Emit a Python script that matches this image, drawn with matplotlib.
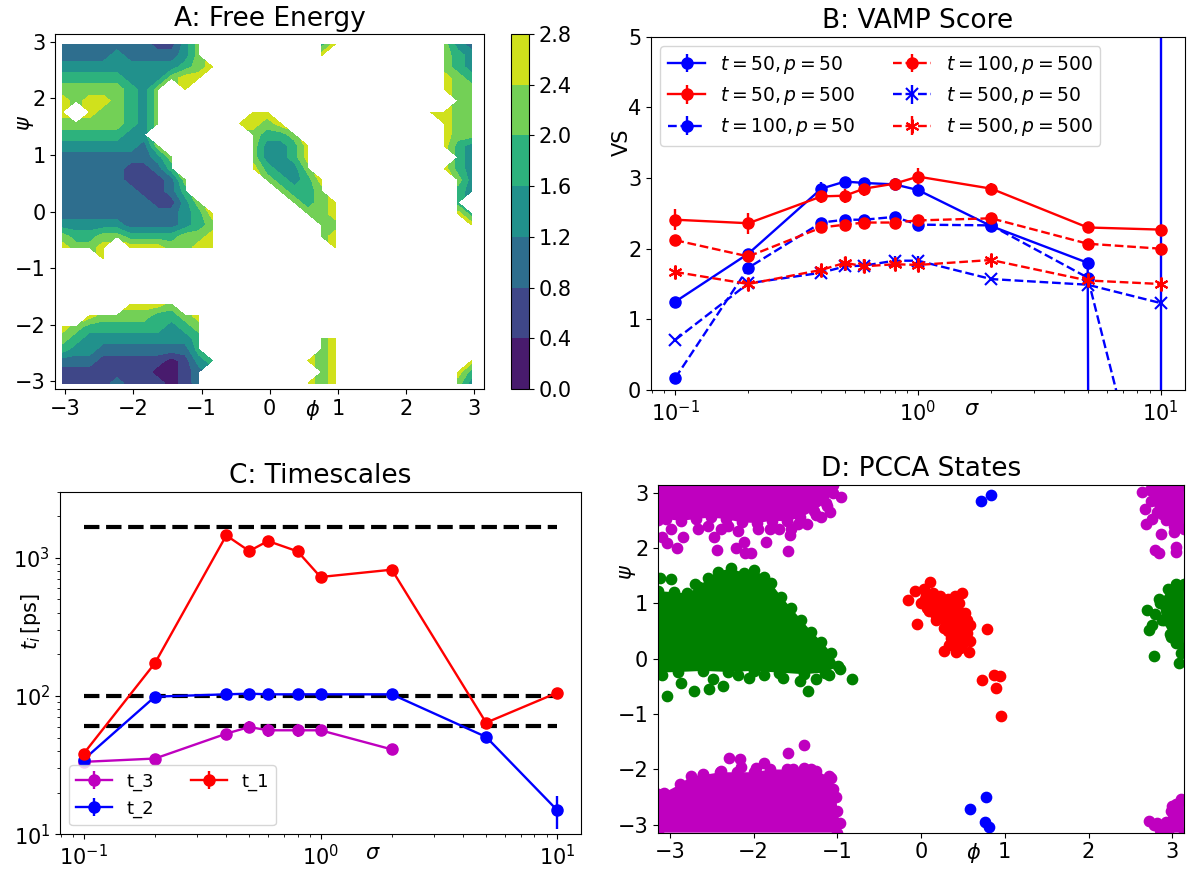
import numpy as np
import matplotlib
matplotlib.use('Agg')
import matplotlib.pyplot as plt

plt.rcParams['font.size'] = 15

# ---------------- data ----------------
# A: free energy on the (phi, psi) grid, one string per psi row (top row first).
# digit = contour band (0..6, band width 0.4), '.' = no samples
phi_grid = np.linspace(-3.04, 2.96, 31)
psi_grid = np.linspace(-3.04, 2.96, 31)
fe_rows = [
    "22222221135........46.......532",
    "22223222235........6........543",
    "333333333456................543",
    "44444333566.................654",
    "55555435.6..................655",
    "65665435.....................55",
    "6.655435......66...........6655",
    "55555435.....6656...........655",
    "4444433.......5445..........655",
    "33333325......53346.........643",
    "222222235.....53346..........43",
    "222221124.....64335.........643",
    "2222211125.....54346.........53",
    "2222221124......5445.........43",
    "22222221135......5456........4.",
    "222222222346......556........64",
    "333332222345.......55.........6",
    "544554444556.......56..........",
    "6556.6665566........6..........",
    "...6...........................",
    "...............................",
    "...............................",
    "...............................",
    ".....6665......................",
    "..655554456....................",
    "65444444345....................",
    "54333333334........56..........",
    "43322222224........56..........",
    "222111110134......656.........6",
    "11111110012........56........64",
    "11112111012.......656........53",
]
fe_levels = [0.0, 0.4, 0.8, 1.2, 1.6, 2.0, 2.4, 2.8]
angle_ticks = [-3, -2, -1, 0, 1, 2, 3]

# B: VAMP score vs sigma
sigma = [0.1, 0.2, 0.4, 0.5, 0.6, 0.8, 1.0, 2.0, 5.0, 10.0]
vs_t50_p50 = [1.25, 1.93, 2.85, 2.95, 2.93, 2.91, 2.83, 2.32, 1.80, -300.0]
er_t50_p50 = [0.03, 0.05, 0.10, 0.05, 0.05, 0.05, 0.04, 0.04, 0.05, 600.0]
vs_t50_p500 = [2.41, 2.36, 2.74, 2.75, 2.85, 2.92, 3.02, 2.85, 2.30, 2.27]
er_t50_p500 = [0.15, 0.15, 0.10, 0.10, 0.10, 0.08, 0.12, 0.08, 0.04, 0.04]
vs_t100_p50 = [0.17, 1.73, 2.37, 2.41, 2.41, 2.45, 2.34, 2.33, 1.59, -2.5]
er_t100_p50 = [0.03, 0.04, 0.05, 0.06, 0.06, 0.05, 0.04, 0.04, 0.05, 0.10]
vs_t100_p500 = [2.12, 1.89, 2.30, 2.34, 2.37, 2.37, 2.40, 2.43, 2.07, 2.00]
er_t100_p500 = [0.05, 0.06, 0.05, 0.06, 0.06, 0.05, 0.05, 0.08, 0.04, 0.04]
vs_t500_p50 = [0.71, 1.51, 1.66, 1.75, 1.76, 1.83, 1.83, 1.57, 1.49, 1.23]
er_t500_p50 = [0.03, 0.05, 0.05, 0.06, 0.08, 0.06, 0.06, 0.03, 0.04, 0.04]
vs_t500_p500 = [1.67, 1.50, 1.70, 1.80, 1.75, 1.78, 1.77, 1.84, 1.55, 1.50]
er_t500_p500 = [0.05, 0.08, 0.06, 0.08, 0.10, 0.08, 0.08, 0.06, 0.05, 0.04]

# C: implied timescales [ps]
t1 = [38.3, 173, 1449, 1117, 1320, 1111, 725, 819, 64.1, 105.7]
t1_err = [3, 10, 60, 50, 60, 50, 30, 30, 3, 5]
t2 = [34.7, 98.9, 102.8, 104, 102.8, 102.8, 102.8, 102.8, 50.6, 14.9]
t2_err = [2, 3, 3, 3, 3, 3, 3, 3, 2, 4]
t3 = [33.4, 35.3, 53.4, 59.7, 56.5, 56.5, 56.5, 41.1, np.nan, np.nan]
t3_err = [1, 1.5, 3, 6, 6, 6, 3, 3, np.nan, np.nan]
ref_timescales = [1667, 100, 61]

# D: PCCA states, dense cores (outline points) and loose points
mag_tl_edge = [(-3.14, 3.14), (-1.05, 3.14), (-1.05, 3.0), (-1.14, 2.82), (-1.28, 2.67),
               (-1.44, 2.55), (-1.6, 2.48), (-1.78, 2.49), (-1.96, 2.45), (-2.14, 2.46),
               (-2.33, 2.52), (-2.51, 2.55), (-2.69, 2.52), (-2.87, 2.49), (-3.05, 2.52),
               (-3.14, 2.5)]
mag_tl_pts = [(-0.96, 2.92), (-1.09, 2.64), (-1.19, 2.55), (-1.36, 2.43), (-1.57, 2.23),
              (-1.59, 1.95), (-1.85, 2.11), (-2.03, 1.90), (-2.11, 2.11), (-2.21, 1.99),
              (-2.44, 1.97), (-2.47, 2.19), (-2.91, 1.99), (-3.04, 2.09), (-2.84, 2.19),
              (-2.99, 2.34), (-2.67, 2.34), (-2.39, 2.34), (-2.19, 2.31), (-1.95, 2.34),
              (-1.81, 2.34), (-1.55, 2.34), (-1.47, 2.44), (-2.10, 1.91), (-3.1, 2.2),
              (-2.55, 2.4), (-2.3, 2.4), (-1.7, 2.35), (-1.25, 2.6), (-1.12, 2.75)]
grn_l_edge = [(-3.14, 1.22), (-2.95, 1.2), (-2.79, 1.18), (-2.65, 1.3), (-2.55, 1.45),
              (-2.43, 1.57), (-2.27, 1.63), (-2.12, 1.55), (-1.99, 1.6), (-1.87, 1.48),
              (-1.79, 1.36), (-1.67, 1.12), (-1.55, 0.91), (-1.43, 0.70), (-1.31, 0.49),
              (-1.19, 0.31), (-1.07, 0.10), (-0.99, -0.14), (-1.15, -0.25), (-1.4, -0.28),
              (-1.7, -0.25), (-2.0, -0.22), (-2.3, -0.24), (-2.6, -0.22), (-2.9, -0.24),
              (-3.14, -0.25)]
grn_l_pts = [(-3.12, 1.45), (-2.99, 1.44), (-2.70, 1.34), (-2.35, 1.5), (-2.0, 1.5),
             (-0.83, -0.37), (-3.03, -0.68), (-2.71, -0.59), (-2.53, -0.55), (-2.37, -0.49),
             (-2.49, -0.37), (-2.87, -0.44), (-1.35, -0.59), (-1.45, -0.41), (-1.25, -0.37),
             (-0.97, -0.19), (-2.19, -0.30), (-1.87, -0.30), (-3.1, -0.3), (-2.05, -0.35),
             (-1.65, -0.35), (-1.1, -0.3)]
mag_bl_edge = [(-3.14, -2.45), (-3.07, -2.42), (-2.88, -2.27), (-2.75, -2.12), (-2.6, -2.1),
               (-2.4, -2.05), (-2.2, -2.05), (-2.0, -2.05), (-1.8, -2.0), (-1.6, -2.0),
               (-1.4, -1.98), (-1.25, -2.02), (-1.08, -2.15), (-1.05, -2.35), (-1.01, -2.5),
               (-1.0, -2.75), (-0.97, -2.96), (-1.0, -3.14), (-3.14, -3.14)]
mag_bl_pts = [(-2.29, -1.79), (-2.16, -1.81), (-1.87, -1.88), (-1.59, -1.70), (-1.40, -1.55),
              (-2.39, -2.03), (-1.97, -1.97), (-1.53, -2.0), (-1.31, -2.0), (-1.1, -2.12),
              (-2.6, -2.08), (-2.15, -1.95)]
mag_tr_edge = [(2.76, 3.14), (3.14, 3.14), (3.14, 2.35), (3.02, 2.4), (2.92, 2.5),
               (2.82, 2.65), (2.75, 2.85), (2.74, 3.05)]
mag_tr_pts = [(2.64, 3.01), (2.68, 2.71), (2.69, 2.44), (2.86, 2.26), (2.84, 1.90),
              (3.04, 2.02), (3.04, 1.92), (2.88, 2.62), (3.02, 2.29), (2.76, 2.53), (2.80, 1.97)]
grn_r_edge = [(2.95, 1.25), (3.05, 1.35), (3.14, 1.35), (3.14, 0.2), (3.05, 0.3),
              (2.97, 0.45), (2.88, 0.7), (2.85, 1.0)]
grn_r_pts = [(2.70, 0.88), (2.72, 0.52), (2.84, 1.07), (2.78, 0.04), (3.08, -0.08),
             (3.10, 0.10), (2.90, 0.70), (2.98, 0.40), (3.04, 0.28), (2.8, 0.8), (2.76, 0.6)]
mag_br_edge = [(2.95, -3.14), (3.14, -3.14), (3.14, -2.55), (3.05, -2.62), (2.98, -2.75),
               (2.92, -2.95)]
mag_br_pts = [(2.72, -2.93), (2.82, -2.96), (3.0, -2.66), (3.1, -2.54), (2.92, -3.05),
              (2.85, -3.1), (2.78, -3.0)]
red_pts = [(-0.15, 1.06), (-0.07, 1.22), (0.04, 1.25), (0.11, 1.38), (-0.05, 0.62),
           (0.05, 1.07), (0.14, 0.89), (0.23, 0.95), (0.32, 1.07), (0.41, 1.13),
           (0.49, 1.18), (0.27, 0.83), (0.37, 0.71), (0.46, 0.59), (0.55, 0.47),
           (0.59, 0.32), (0.32, 0.50), (0.27, 0.14), (0.42, 0.12), (0.57, 0.12),
           (0.52, 0.83), (0.48, 0.68), (0.79, 0.53), (0.73, -0.38), (0.87, -0.29),
           (0.94, -0.31), (0.90, -0.53), (0.95, -1.03), (0.09, 0.86), (0.18, 0.77),
           (0.34, 0.59), (0.43, 0.41), (0.50, 0.29), (0.39, 0.83), (0.23, 1.13),
           (0.14, 1.19), (0.0, 1.01), (0.07, 0.92), (0.2, 0.9), (0.3, 0.85),
           (0.35, 0.75), (0.25, 1.0), (0.4, 0.65), (0.45, 0.5), (0.3, 0.65),
           (0.38, 0.45), (0.5, 0.4), (0.52, 0.55), (0.15, 1.05), (0.3, 0.95),
           (0.45, 0.85), (0.55, 0.7), (0.1, 1.0), (0.2, 1.05), (0.35, 1.0),
           (0.45, 1.0), (0.25, 0.75), (0.33, 0.8), (0.42, 0.75), (0.5, 0.65),
           (0.28, 0.55), (0.36, 0.38), (0.44, 0.28), (0.53, 0.35), (0.47, 0.2),
           (0.33, 0.25), (0.18, 0.7), (0.12, 0.95), (0.58, 0.6), (0.4, 0.95),
           (0.25, 0.88), (0.06, 1.15)]
blue_pts = [(0.72, 2.84), (0.83, 2.95), (0.58, -2.72), (0.78, -2.49), (0.76, -2.94), (0.81, -3.04)]

# ---------------- figure ----------------
fig = plt.figure(figsize=(11.88, 8.76), dpi=100)
title_fs = 19
lw = 1.7

# A: Free Energy
axA = fig.add_axes([0.0467, 0.5559, 0.3607, 0.4053])
cax = fig.add_axes([0.4299, 0.5559, 0.0151, 0.4053])
bands = np.array([[np.nan if c == '.' else float(c) for c in row] for row in fe_rows[::-1]])
F = np.ma.masked_invalid(0.4 * bands + 0.2)
cs = axA.contourf(phi_grid, psi_grid, F, levels=fe_levels, cmap='viridis')
cb = fig.colorbar(cs, cax=cax)
cb.set_ticks(fe_levels)
axA.set_xlim(-np.pi, np.pi)
axA.set_ylim(-np.pi, np.pi)
axA.set_xticks(angle_ticks)
axA.set_yticks(angle_ticks)
axA.set_title('A: Free Energy', fontsize=title_fs)
axA.set_xlabel(r'$\phi$')
axA.set_ylabel(r'$\psi$')
axA.xaxis.set_label_coords(0.6, -0.025)
axA.yaxis.set_label_coords(-0.045, 0.75)

# B: VAMP Score
axB = fig.add_axes([0.548, 0.5548, 0.4495, 0.4033])
axB.errorbar(sigma, vs_t50_p50, yerr=er_t50_p50, fmt='o-', color='b', ms=8, lw=lw, label=r'$t=50, p=50$')
axB.errorbar(sigma, vs_t50_p500, yerr=er_t50_p500, fmt='o-', color='r', ms=8, lw=lw, label=r'$t=50, p=500$')
axB.errorbar(sigma, vs_t100_p50, yerr=er_t100_p50, fmt='o--', color='b', ms=8, lw=lw, label=r'$t=100, p=50$')
axB.errorbar(sigma, vs_t100_p500, yerr=er_t100_p500, fmt='o--', color='r', ms=8, lw=lw, label=r'$t=100, p=500$')
axB.errorbar(sigma, vs_t500_p50, yerr=er_t500_p50, fmt='x--', color='b', ms=8, mew=1.5, lw=lw,
             label=r'$t=500, p=50$')
axB.errorbar(sigma, vs_t500_p500, yerr=er_t500_p500, fmt='--', marker=(6, 2, 0), color='r', ms=10,
             mew=1.5, lw=lw, label=r'$t=500, p=500$')
axB.set_xscale('log')
axB.set_ylim(0, 5)
axB.set_title('B: VAMP Score', fontsize=title_fs)
axB.set_xlabel(r'$\sigma$')
axB.set_ylabel('VS')
axB.xaxis.set_label_coords(0.6, -0.025)
axB.yaxis.set_label_coords(-0.036, 0.7)
axB.legend(ncol=2, loc='upper left', fontsize=13.5)

# C: Timescales
axC = fig.add_axes([0.0505, 0.0476, 0.4386, 0.3911])
for ts in ref_timescales:
    axC.plot([sigma[0], sigma[-1]], [ts, ts], 'k--', lw=3)
axC.errorbar(sigma, t3, yerr=t3_err, fmt='o-', color='m', ms=8, lw=lw, label='t_3')
axC.errorbar(sigma, t2, yerr=t2_err, fmt='o-', color='b', ms=8, lw=lw, label='t_2')
axC.errorbar(sigma, t1, yerr=t1_err, fmt='o-', color='r', ms=8, lw=lw, label='t_1')
axC.set_xscale('log')
axC.set_yscale('log')
axC.set_ylim(10, 3000)
axC.set_title('C: Timescales', fontsize=title_fs)
axC.set_xlabel(r'$\sigma$')
axC.set_ylabel(r'$t_i\,$[ps]')
axC.xaxis.set_label_coords(0.6, -0.025)
axC.yaxis.set_label_coords(-0.033, 0.62)
axC.legend(ncol=2, loc='lower left', fontsize=13)

# D: PCCA States
axD = fig.add_axes([0.5539, 0.0494, 0.4428, 0.3973])
s = 55
for edge, col in [(mag_tl_edge, 'm'), (grn_l_edge, 'g'), (mag_bl_edge, 'm'),
                  (mag_tr_edge, 'm'), (grn_r_edge, 'g'), (mag_br_edge, 'm')]:
    ex, ey = zip(*edge)
    axD.fill(ex, ey, color=col, lw=0)
    axD.scatter(ex, ey, s=s, color=col)
for pts, col in [(mag_tl_pts, 'm'), (grn_l_pts, 'g'), (mag_bl_pts, 'm'), (mag_tr_pts, 'm'),
                 (grn_r_pts, 'g'), (mag_br_pts, 'm'), (red_pts, 'r'), (blue_pts, 'b')]:
    px, py = zip(*pts)
    axD.scatter(px, py, s=s, color=col)
axD.set_xlim(-np.pi, np.pi)
axD.set_ylim(-np.pi, np.pi)
axD.set_xticks(angle_ticks)
axD.set_yticks(angle_ticks)
axD.set_title('D: PCCA States', fontsize=title_fs)
axD.set_xlabel(r'$\phi$')
axD.set_ylabel(r'$\psi$')
axD.xaxis.set_label_coords(0.6, -0.025)
axD.yaxis.set_label_coords(-0.038, 0.75)

fig.savefig('out.png', dpi=100)
